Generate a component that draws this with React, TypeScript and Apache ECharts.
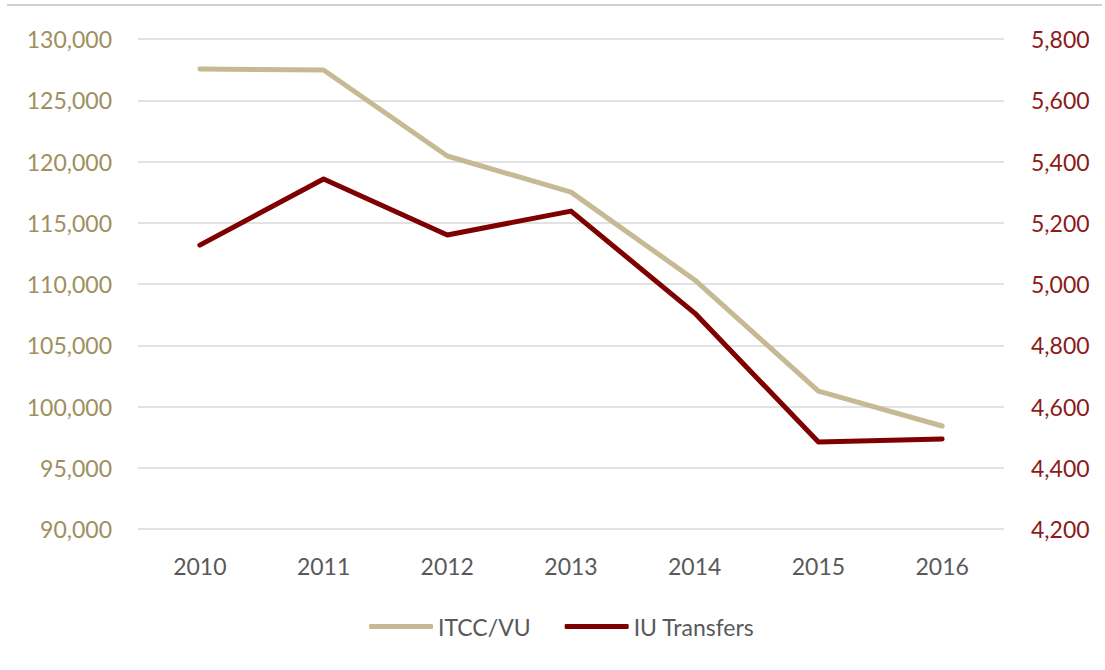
import React, { useEffect, useRef } from "react";
import * as echarts from "echarts";

const years = ["2010", "2011", "2012", "2013", "2014", "2015", "2016"];
const itccVu = [127550, 127470, 120450, 117500, 110330, 101260, 98410];
const iuTransfers = [5127, 5343, 5160, 5238, 4905, 4484, 4494];

const FONT = "Lato, 'Open Sans', sans-serif";

export default function App() {
  const ref = useRef<HTMLDivElement>(null);
  useEffect(() => {
    document.body.style.margin = "0";
    const chart = echarts.init(ref.current!, null, { renderer: "svg" });
    chart.setOption({
      animation: false,
      backgroundColor: "#ffffff",
      textStyle: { fontFamily: FONT },
      graphic: [
        {
          type: "line",
          shape: { x1: 7, y1: 5, x2: 1102, y2: 5 },
          style: { stroke: "#c0c0c0", lineWidth: 1.5 },
        },
      ],
      grid: { left: 138, right: 101, top: 39, bottom: 141, containLabel: false },
      legend: {
        top: 615,
        left: 369,
        padding: 0,
        icon: "roundRect",
        itemWidth: 64,
        itemHeight: 5,
        itemGap: 34,
        textStyle: { color: "#595959", fontSize: 23, fontFamily: FONT, padding: [0, 0, 0, 0] },
        data: ["ITCC/VU", "IU Transfers"],
      },
      xAxis: {
        type: "category",
        data: years,
        boundaryGap: true,
        axisLine: { show: false },
        axisTick: { show: false },
        axisLabel: { color: "#595959", fontSize: 23, margin: 25, fontFamily: FONT },
      },
      yAxis: [
        {
          type: "value",
          min: 90000,
          max: 130000,
          interval: 5000,
          axisLine: { show: false },
          axisTick: { show: false },
          splitLine: { lineStyle: { color: "#d9d9d9", width: 1.5 } },
          axisLabel: {
            color: "#9e8f5e",
            fontSize: 23,
            margin: 26,
            fontFamily: FONT,
            formatter: (v: number) => v.toLocaleString("en-US"),
          },
        },
        {
          type: "value",
          min: 4200,
          max: 5800,
          interval: 200,
          position: "right",
          axisLine: { show: false },
          axisTick: { show: false },
          splitLine: { show: false },
          axisLabel: {
            color: "#8b1a1a",
            fontSize: 23,
            margin: 27,
            fontFamily: FONT,
            formatter: (v: number) => v.toLocaleString("en-US"),
          },
        },
      ],
      series: [
        {
          name: "ITCC/VU",
          type: "line",
          yAxisIndex: 0,
          data: itccVu,
          symbol: "none",
          color: "#c6ba94",
          lineStyle: { color: "#c6ba94", width: 5, cap: "round", join: "round" },
        },
        {
          name: "IU Transfers",
          type: "line",
          yAxisIndex: 1,
          data: iuTransfers,
          symbol: "none",
          color: "#7f0000",
          lineStyle: { color: "#7f0000", width: 5, cap: "round", join: "round" },
        },
      ],
    });
    return () => chart.dispose();
  }, []);
  return (
    <div
      ref={ref}
      style={{ position: "absolute", left: 0, top: 0, width: 1105, height: 670 }}
    />
  );
}
